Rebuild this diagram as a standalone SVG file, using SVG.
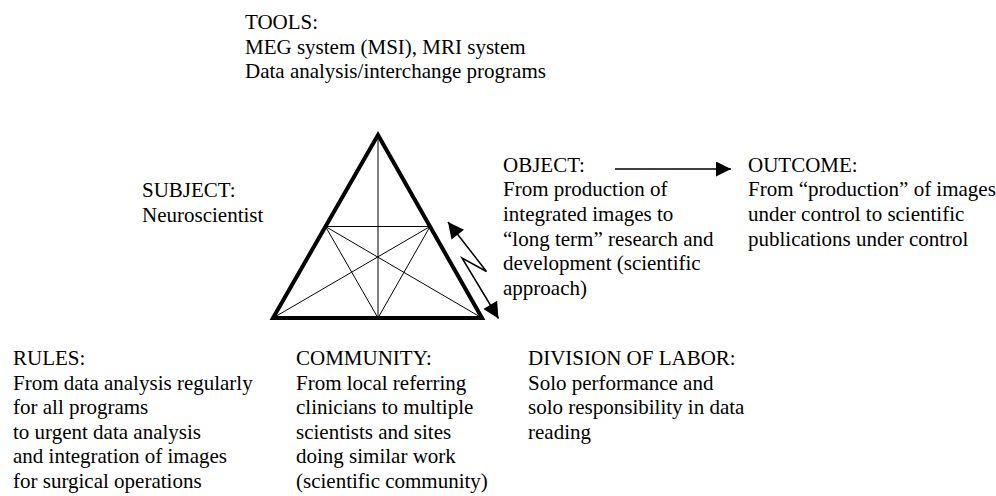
<svg xmlns="http://www.w3.org/2000/svg" width="996" height="496" viewBox="0 0 996 496">
  <style>
    .t { font-family: "Liberation Serif", "Times New Roman", serif; font-size: 21px; fill: #000; }
    .thick { fill: none; stroke: #000; stroke-width: 4; stroke-linejoin: miter; }
    .thin { fill: none; stroke: #000; stroke-width: 1; }
    .conn { fill: none; stroke: #000; stroke-width: 1.5; }
  </style>
  <defs>
    <marker id="ah" viewBox="0 0 10 10" refX="10" refY="5" markerUnits="userSpaceOnUse" markerWidth="15" markerHeight="15" orient="auto-start-reverse">
      <path d="M0,0 L10,5 L0,10 z" fill="#000"/>
    </marker>
    <marker id="ahL" viewBox="0 0 10 10" refX="10" refY="5" markerUnits="userSpaceOnUse" markerWidth="17" markerHeight="16" orient="auto-start-reverse">
      <path d="M0,0 L10,5 L0,10 z" fill="#000"/>
    </marker>
  </defs>
  <rect width="996" height="496" fill="#fff"/>

  <g id="triangle">
    <path class="thick" d="M378,135 L482,318 L273,318 Z"/>
    <line class="thin" x1="378" y1="135" x2="378" y2="318"/>
    <line class="thin" x1="325.5" y1="226.5" x2="430" y2="226.5"/>
    <line class="thin" x1="273" y1="318" x2="430" y2="226.5"/>
    <line class="thin" x1="482" y1="318" x2="325.5" y2="226.5"/>
    <line class="thin" x1="325.5" y1="226.5" x2="378" y2="318"/>
    <line class="thin" x1="430" y1="226.5" x2="378" y2="318"/>
  </g>

  <g id="tools">
    <text class="t" x="245" y="29">TOOLS:</text>
    <text class="t" x="245" y="53.5">MEG system (MSI), MRI system</text>
    <text class="t" x="245" y="78">Data analysis/interchange programs</text>
  </g>

  <g id="subject">
    <text class="t" x="142" y="197">SUBJECT:</text>
    <text class="t" x="142" y="221.5">Neuroscientist</text>
  </g>

  <g id="object">
    <text class="t" x="503" y="171.5">OBJECT:</text>
    <text class="t" x="503" y="196.2">From production of</text>
    <text class="t" x="503" y="220.9">integrated images to</text>
    <text class="t" x="503" y="245.6">“long term” research and</text>
    <text class="t" x="503" y="270.3">development (scientific</text>
    <text class="t" x="503" y="295">approach)</text>
  </g>

  <g id="outcome">
    <text class="t" x="748" y="171.5">OUTCOME:</text>
    <text class="t" x="748" y="196.2">From “production” of images</text>
    <text class="t" x="748" y="220.9">under control to scientific</text>
    <text class="t" x="748" y="245.6">publications under control</text>
  </g>

  <g id="rules">
    <text class="t" x="13" y="365">RULES:</text>
    <text class="t" x="13" y="389.5">From data analysis regularly</text>
    <text class="t" x="13" y="414">for all programs</text>
    <text class="t" x="13" y="438.5">to urgent data analysis</text>
    <text class="t" x="13" y="463">and integration of images</text>
    <text class="t" x="13" y="487.5">for surgical operations</text>
  </g>

  <g id="community">
    <text class="t" x="296" y="365">COMMUNITY:</text>
    <text class="t" x="296" y="389.5">From local referring</text>
    <text class="t" x="296" y="414">clinicians to multiple</text>
    <text class="t" x="296" y="438.5">scientists and sites</text>
    <text class="t" x="296" y="463">doing similar work</text>
    <text class="t" x="296" y="487.5">(scientific community)</text>
  </g>

  <g id="division">
    <text class="t" x="528" y="365">DIVISION OF LABOR:</text>
    <text class="t" x="528" y="389.5">Solo performance and</text>
    <text class="t" x="528" y="414">solo responsibility in data</text>
    <text class="t" x="528" y="438.5">reading</text>
  </g>

  <g id="connectors">
    <line class="conn" x1="615" y1="169" x2="731" y2="169" marker-end="url(#ah)"/>
    <polyline class="conn" points="448,222 486.5,271.5 462,258 498.5,318.5" marker-start="url(#ahL)" marker-end="url(#ahL)"/>
  </g>
</svg>
